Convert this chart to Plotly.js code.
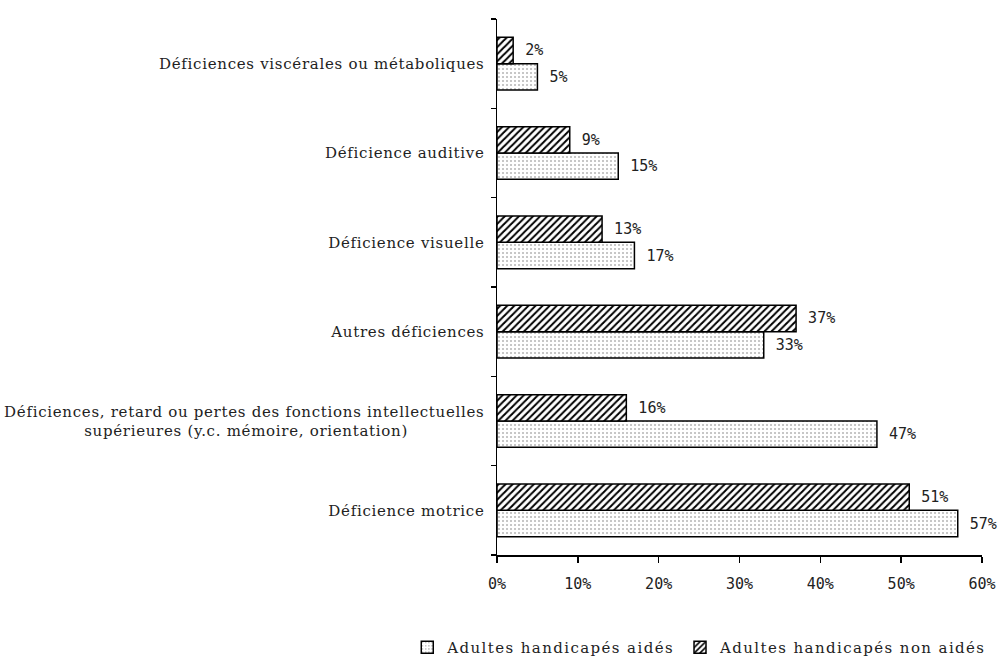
<!DOCTYPE html>
<html>
<head>
<meta charset="utf-8">
<script src="https://cdn.plot.ly/plotly-3.0.1.min.js"></script>
<style>
html,body{margin:0;padding:0;background:#fff;}
#chart{width:998px;height:660px;}
#chart .ytick text{letter-spacing:0.7px;}
.legendtext{letter-spacing:1.4px;}
</style>
</head>
<body>
<div id="chart"></div>
<script>
const categories = [
  "Déficience motrice",
  "Déficiences, retard ou pertes des fonctions intellectuelles<br>supérieures (y.c. mémoire, orientation)\u00a0\u00a0\u00a0\u00a0\u00a0\u00a0\u00a0\u00a0\u00a0\u00a0\u00a0\u00a0\u00a0\u00a0",
  "Autres déficiences",
  "Déficience visuelle",
  "Déficience auditive",
  "Déficiences viscérales ou métaboliques"
];
const aides = [57, 47, 33, 17, 15, 5];
const nonAides = [51, 16, 37, 13, 9, 2];
const seriesNames = ["Adultes handicapés aidés", "Adultes handicapés non aidés"];
const xTickVals = [0, 10, 20, 30, 40, 50, 60];
const xTickText = ["0%", "10%", "20%", "30%", "40%", "50%", "60%"];

const monoFont = {family: "DejaVu Sans Mono", size: 15, color: "#222"};
const serifFont = {family: "DejaVu Serif", size: 15, color: "#222"};

const traces = [
  {
    type: "bar", orientation: "h", name: seriesNames[0],
    y: categories, x: aides,
    texttemplate: " %{x}%", textposition: "outside", cliponaxis: false,
    textfont: monoFont,
    marker: {color: "#fff", line: {color: "#000", width: 1.5},
      pattern: {shape: ".", fgcolor: "#b5b5b5", bgcolor: "#fff", size: 4, solidity: 0.2}},
    hoverinfo: "skip"
  },
  {
    type: "bar", orientation: "h", name: seriesNames[1],
    y: categories, x: nonAides,
    texttemplate: " %{x}%", textposition: "outside", cliponaxis: false,
    textfont: monoFont,
    marker: {color: "#fff", line: {color: "#000", width: 1.5},
      pattern: {shape: "/", fgcolor: "#000", bgcolor: "#fff", size: 5, solidity: 0.4}},
    hoverinfo: "skip"
  }
];

const layout = {
  width: 998, height: 660,
  margin: {l: 497, r: 16, t: 19, b: 105, autoexpand: false},
  paper_bgcolor: "#fff", plot_bgcolor: "#fff",
  barmode: "group", bargap: 0.41, bargroupgap: 0,
  showlegend: true,
  legend: {orientation: "h", xref: "paper", x: -0.185, xanchor: "left", yref: "paper", y: -0.142, yanchor: "top",
    font: {family: "DejaVu Serif", size: 15, color: "#222"}, traceorder: "normal", itemwidth: 30},
  xaxis: {range: [0, 60], tickvals: xTickVals, ticktext: xTickText, showgrid: false, zeroline: false,
    showline: true, linecolor: "#000", linewidth: 1.5, ticks: "outside", ticklen: 6, tickcolor: "#000", tickwidth: 1.5,
    tickfont: monoFont, ticklabelstandoff: 8, fixedrange: true, automargin: false},
  yaxis: {type: "category", categoryorder: "array", categoryarray: categories, showgrid: false, zeroline: false,
    showline: true, linecolor: "#000", linewidth: 1.5, ticks: "outside", ticklen: 5, tickcolor: "#000", tickwidth: 1.5,
    tickson: "boundaries", tickfont: serifFont, ticklabelstandoff: 8, fixedrange: true, automargin: false}
};

Plotly.newPlot("chart", traces, layout, {displayModeBar: false, staticPlot: true});
</script>
</body>
</html>
